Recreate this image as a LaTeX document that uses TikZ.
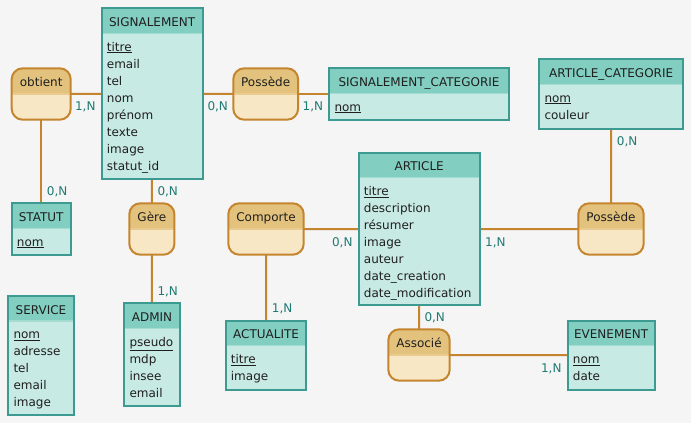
\documentclass[tikz,border=0pt]{standalone}
\usepackage{fontspec}
\setmainfont{DejaVu Sans}
\usetikzlibrary{backgrounds}

\definecolor{entbord}{HTML}{3C9A91}
\definecolor{enthead}{HTML}{82CFC2}
\definecolor{entbody}{HTML}{C8EAE4}
\definecolor{entsep}{HTML}{A4DCD2}
\definecolor{assbord}{HTML}{C4852E}
\definecolor{asshead}{HTML}{E2C27D}
\definecolor{assbody}{HTML}{F7E7C5}
\definecolor{asssep}{HTML}{E9CB8F}
\definecolor{lien}{HTML}{C4852E}
\definecolor{cardcol}{HTML}{1F7A72}
\definecolor{fond}{HTML}{F5F5F5}

\tikzset{
  txt/.style={font=\fontsize{12}{14}\selectfont, text=black!88, inner sep=0pt},
  attr/.style={txt, anchor=base west},
  card/.style={font=\fontsize{12}{14}\selectfont, text=cardcol, inner sep=0pt},
  lien/.style={draw=lien, line width=2pt},
}

\newcommand{\cle}[1]{\underline{#1}}

% entite : nom, coin, largeur, hauteur, titre, attributs
\newcommand{\entite}[6]{
  \node[fill=entbody, minimum width=#3, minimum height=#4, anchor=north west, inner sep=0pt] (#1) at (#2) {};
  \fill[enthead] (#1.north west) rectangle ([yshift=-25pt]#1.north east);
  \draw[entsep, line width=1.5pt] ([yshift=-25pt]#1.north west) -- ([yshift=-25pt]#1.north east);
  \draw[entbord, line width=2.1pt] (#1.north west) rectangle (#1.south east);
  \node[txt, anchor=base] (#1-titre) at ([yshift=-18pt]#1.north) {#5};
  \foreach \a [count=\i from 0] in {#6}
    \node[attr] (#1-\i) at ([xshift=5pt, yshift={-42.7pt-17pt*\i}]#1.north west) {\a};
}

% association : nom, coin, largeur, titre
\newcommand{\assoc}[4]{
  \node[minimum width=#3, minimum height=51pt, anchor=north west, inner sep=0pt] (#1) at (#2) {};
  \fill[assbody, rounded corners=11pt] (#1.north west) rectangle (#1.south east);
  \begin{scope}
    \clip (#1.north west) rectangle ([yshift=-25.5pt]#1.north east);
    \fill[asshead, rounded corners=11pt] (#1.north west) rectangle (#1.south east);
  \end{scope}
  \draw[asssep, line width=1.5pt] ([yshift=-25.5pt]#1.north west) -- ([yshift=-25.5pt]#1.north east);
  \draw[assbord, line width=2pt, rounded corners=11pt] (#1.north west) rectangle (#1.south east);
  \node[txt, anchor=base] (#1-titre) at ([yshift=-18.3pt]#1.north) {#4};
}

\begin{document}
\begin{tikzpicture}[x=1pt, y=-1pt]
\begin{pgfonlayer}{background}
\fill[fond] (0,0) rectangle (691,423);
\end{pgfonlayer}
\useasboundingbox (0,0) rectangle (691,423);

\entite{signalement}{101.7,8.3}{100.6pt}{170.7pt}{SIGNALEMENT}{\cle{titre},email,tel,nom,prénom,texte,image,statut\_id}
\entite{sigcat}{329.3,68.3}{179pt}{51pt}{SIGNALEMENT\_CATEGORIE}{\cle{nom}}
\entite{artcat}{539.3,59.3}{143.4pt}{69pt}{ARTICLE\_CATEGORIE}{\cle{nom},couleur}
\entite{article}{358.7,152.7}{120.6pt}{152.3pt}{ARTICLE}{\cle{titre},description,résumer,image,auteur,date\_creation,date\_modification}
\entite{statut}{11.7,203.3}{58.6pt}{51pt}{STATUT}{\cle{nom}}
\entite{service}{8.3,296}{65pt}{118.3pt}{SERVICE}{\cle{nom},adresse,tel,email,image}
\entite{admin}{124.3,303.3}{55pt}{102.7pt}{ADMIN}{\cle{pseudo},mdp,insee,email}
\entite{actualite}{225.7,320.7}{80.3pt}{68.6pt}{ACTUALITE}{\cle{titre},image}
\entite{evenement}{567.7,320.7}{86.6pt}{68.6pt}{EVENEMENT}{\cle{nom},date}

\assoc{obtient}{11.7,68.3}{58.6pt}{obtient}
\assoc{possede}{233.3,68.3}{64.4pt}{Possède}
\assoc{gere}{129.3,203.3}{44.7pt}{Gère}
\assoc{comporte}{228.3,203.3}{75pt}{Comporte}
\assoc{possedeart}{578.3,203.3}{65pt}{Possède}
\assoc{associe}{388.3,329.3}{61pt}{Associé}

\begin{pgfonlayer}{background}
\draw[lien] (obtient.center) -- (signalement.center);
\draw[lien] (obtient.center) -- (statut.center);
\draw[lien] (signalement.center) -- (possede.center);
\draw[lien] (possede.center) -- (sigcat.center);
\draw[lien] (signalement.center) -- (gere.center);
\draw[lien] (gere.center) -- (admin.center);
\draw[lien] (comporte.center) -- (article.center);
\draw[lien] (comporte.center) -- (actualite.center);
\draw[lien] (article.center) -- (possedeart.center);
\draw[lien] (possedeart.center) -- (artcat.center);
\draw[lien] (article.center) -- (associe.center);
\draw[lien] (associe.center) -- (evenement.center);
\end{pgfonlayer}

\node[card, anchor=base east] (c1) at (95.7,110.7) {1,N};
\node[card, anchor=base west] (c2) at (46.7,195.7) {0,N};
\node[card, anchor=base west] (c3) at (207.3,110.7) {0,N};
\node[card, anchor=base east] (c4) at (323.3,110.7) {1,N};
\node[card, anchor=base west] (c5) at (157.3,195.7) {0,N};
\node[card, anchor=base west] (c6) at (157.3,295.5) {1,N};
\node[card, anchor=base east] (c7) at (352.7,246) {0,N};
\node[card, anchor=base west] (c8) at (271.7,312.7) {1,N};
\node[card, anchor=base west] (c9) at (485,246) {1,N};
\node[card, anchor=base west] (c10) at (616.7,145.3) {0,N};
\node[card, anchor=base west] (c11) at (424.3,321) {0,N};
\node[card, anchor=base east] (c12) at (561.7,372) {1,N};
\end{tikzpicture}
\end{document}
